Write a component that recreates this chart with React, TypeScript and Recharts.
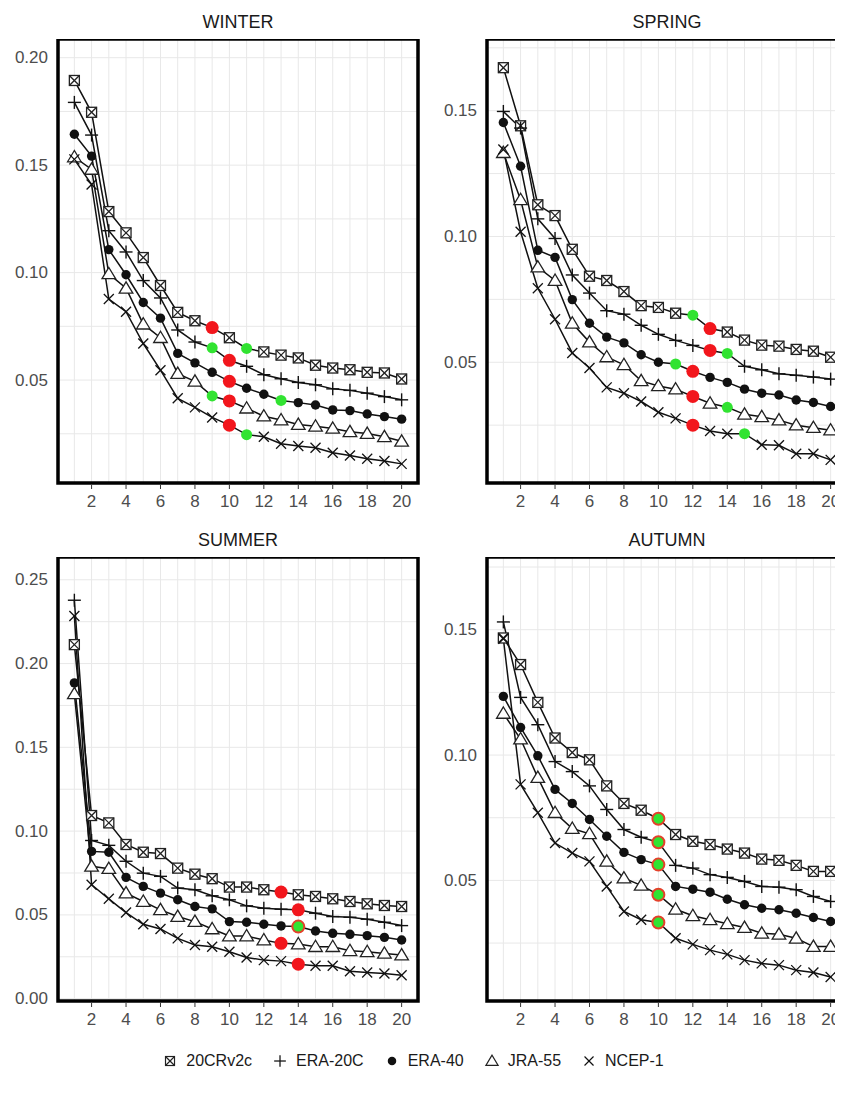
import React from "react";
import { LineChart, Line, XAxis, YAxis, CartesianGrid, ReferenceArea } from "recharts";

// lag steps on the x axis
const steps = [1, 2, 3, 4, 5, 6, 7, 8, 9, 10, 11, 12, 13, 14, 15, 16, 17, 18, 19, 20];
const seriesNames = ["20CRv2c", "ERA-20C", "ERA-40", "JRA-55", "NCEP-1"];

// WINTER
const winter20CR = [0.1894, 0.1746, 0.1284, 0.1185, 0.107, 0.094, 0.0815, 0.0776, 0.0744, 0.0697, 0.0647, 0.0631, 0.0616, 0.0603, 0.0569, 0.0556, 0.0548, 0.0536, 0.0533, 0.0505];
const winterERA20C = [0.1792, 0.164, 0.1195, 0.1096, 0.0963, 0.0882, 0.0733, 0.0677, 0.065, 0.0592, 0.0564, 0.0525, 0.0506, 0.0489, 0.0478, 0.0459, 0.0452, 0.0439, 0.0423, 0.0408];
const winterERA40 = [0.1644, 0.1542, 0.1107, 0.099, 0.0861, 0.0788, 0.0624, 0.058, 0.0536, 0.0494, 0.0462, 0.0434, 0.0405, 0.0395, 0.0384, 0.0361, 0.0358, 0.0342, 0.033, 0.0318];
const winterJRA55 = [0.1538, 0.148, 0.0994, 0.0927, 0.076, 0.0697, 0.053, 0.0494, 0.0426, 0.0403, 0.0369, 0.0332, 0.0314, 0.0293, 0.0285, 0.0275, 0.0259, 0.0251, 0.0236, 0.0215];
const winterNCEP1 = [0.1527, 0.141, 0.0877, 0.0818, 0.067, 0.0546, 0.0415, 0.0373, 0.0326, 0.029, 0.0246, 0.0236, 0.0204, 0.0193, 0.0185, 0.0162, 0.0149, 0.0134, 0.0123, 0.011];
const winterRed = [9, 10, 10, 10, 10];
const winterGreen = [11, 9, 13, 9, 11];

// SPRING
const spring20CR = [0.1671, 0.144, 0.1126, 0.1083, 0.0949, 0.0842, 0.0825, 0.0781, 0.0725, 0.0718, 0.0695, 0.0687, 0.0634, 0.062, 0.0588, 0.0568, 0.0564, 0.0551, 0.0544, 0.052];
const springERA20C = [0.1497, 0.1431, 0.107, 0.0992, 0.0847, 0.0775, 0.0705, 0.0691, 0.0647, 0.0611, 0.0587, 0.0567, 0.0547, 0.0535, 0.0484, 0.047, 0.0454, 0.0448, 0.0441, 0.0433];
const springERA40 = [0.1453, 0.1279, 0.0945, 0.0917, 0.0749, 0.0655, 0.06, 0.0577, 0.053, 0.05, 0.0493, 0.0464, 0.044, 0.042, 0.0393, 0.0377, 0.037, 0.035, 0.034, 0.0324];
const springJRA55 = [0.1333, 0.1146, 0.0878, 0.0825, 0.0655, 0.058, 0.0521, 0.049, 0.0426, 0.0406, 0.0393, 0.0364, 0.0337, 0.0321, 0.0293, 0.0283, 0.027, 0.025, 0.024, 0.023];
const springNCEP1 = [0.1346, 0.1019, 0.0794, 0.0671, 0.0537, 0.0477, 0.04, 0.0377, 0.0344, 0.0301, 0.0277, 0.025, 0.0227, 0.0216, 0.0216, 0.0172, 0.017, 0.0136, 0.0136, 0.0112];
const springRed = [13, 13, 12, 12, 12];
const springGreen = [12, 14, 11, 14, 15];

// SUMMER
const summer20CR = [0.2113, 0.1093, 0.1049, 0.092, 0.0874, 0.0866, 0.0779, 0.0743, 0.0716, 0.0666, 0.0666, 0.065, 0.0636, 0.062, 0.061, 0.0596, 0.058, 0.0566, 0.0556, 0.055];
const summerERA20C = [0.2378, 0.0944, 0.0915, 0.082, 0.0749, 0.073, 0.066, 0.065, 0.0614, 0.059, 0.0554, 0.054, 0.0534, 0.053, 0.051, 0.049, 0.0486, 0.0474, 0.0456, 0.0436];
const summerERA40 = [0.1885, 0.0879, 0.0874, 0.0724, 0.067, 0.063, 0.059, 0.055, 0.0536, 0.046, 0.0456, 0.0444, 0.0434, 0.043, 0.0404, 0.039, 0.0384, 0.0376, 0.0366, 0.035];
const summerJRA55 = [0.1819, 0.079, 0.0776, 0.063, 0.058, 0.053, 0.049, 0.046, 0.0416, 0.0374, 0.0374, 0.035, 0.033, 0.0326, 0.031, 0.031, 0.0286, 0.028, 0.027, 0.026];
const summerNCEP1 = [0.2284, 0.068, 0.0596, 0.0514, 0.0444, 0.0416, 0.036, 0.032, 0.031, 0.028, 0.0246, 0.023, 0.0224, 0.0206, 0.0196, 0.0196, 0.0164, 0.0156, 0.015, 0.014];
const summerRed = [13, 14, null, 13, 14];
const summerBoth = [null, null, 14, null, null];

// AUTUMN
const autumn20CR = [0.1467, 0.1361, 0.121, 0.1068, 0.101, 0.0981, 0.0877, 0.0807, 0.078, 0.0746, 0.0683, 0.0656, 0.0643, 0.0625, 0.0609, 0.0585, 0.058, 0.056, 0.0536, 0.0536];
const autumnERA20C = [0.1531, 0.123, 0.1121, 0.0974, 0.0934, 0.0877, 0.0783, 0.0703, 0.0672, 0.0652, 0.056, 0.0549, 0.0523, 0.0512, 0.0496, 0.0476, 0.0473, 0.0463, 0.0436, 0.0416];
const autumnERA40 = [0.1234, 0.111, 0.0997, 0.0863, 0.0807, 0.0743, 0.0676, 0.0612, 0.0583, 0.0563, 0.0476, 0.0465, 0.0453, 0.0425, 0.0403, 0.0389, 0.0383, 0.0369, 0.0352, 0.0336];
const autumnJRA55 = [0.1166, 0.1064, 0.091, 0.077, 0.0707, 0.0686, 0.0576, 0.0509, 0.048, 0.0443, 0.0385, 0.0359, 0.0343, 0.0327, 0.0312, 0.0289, 0.0285, 0.0269, 0.0236, 0.0236];
const autumnNCEP1 = [0.1464, 0.0883, 0.077, 0.0649, 0.0609, 0.0576, 0.0476, 0.0376, 0.0343, 0.0332, 0.0269, 0.0245, 0.0222, 0.0205, 0.0182, 0.0169, 0.0162, 0.0142, 0.0133, 0.0115];
const autumnBoth = [10, 10, 10, 10, 10];

const FONT = "'Liberation Sans', Arial, Helvetica, sans-serif";
const INK = "#111";
const RED = "#f2161c";
const GREEN = "#31e331";

type Marks = (number | null)[];

function Marker({ shape, cx, cy }: { shape: number; cx: number; cy: number }) {
  if (shape === 0) {
    return (
      <g stroke="#222" strokeWidth={1.3}>
        <rect x={cx - 5} y={cy - 5} width={10} height={10} fill="#fff" />
        <line x1={cx - 5} y1={cy - 5} x2={cx + 5} y2={cy + 5} />
        <line x1={cx + 5} y1={cy - 5} x2={cx - 5} y2={cy + 5} />
      </g>
    );
  }
  if (shape === 1) {
    return (
      <g stroke={INK} strokeWidth={1.4}>
        <line x1={cx - 6.5} y1={cy} x2={cx + 6.5} y2={cy} />
        <line x1={cx} y1={cy - 6.5} x2={cx} y2={cy + 6.5} />
      </g>
    );
  }
  if (shape === 2) return <circle cx={cx} cy={cy} r={4.7} fill={INK} />;
  if (shape === 3) {
    return (
      <polygon
        points={`${cx},${cy - 6.5} ${cx - 6.8},${cy + 4.8} ${cx + 6.8},${cy + 4.8}`}
        fill="#fff"
        stroke="#222"
        strokeWidth={1.3}
      />
    );
  }
  return (
    <g stroke={INK} strokeWidth={1.3}>
      <line x1={cx - 5} y1={cy - 5} x2={cx + 5} y2={cy + 5} />
      <line x1={cx + 5} y1={cy - 5} x2={cx - 5} y2={cy + 5} />
    </g>
  );
}

const makeDot = (shape: number, red: number | null, green: number | null, both: number | null) =>
  (props: any) => {
    const { cx, cy, payload, index } = props;
    const k = `d-${shape}-${index}`;
    if (cx == null || cy == null) return <g key={k} />;
    if (payload.x === both)
      return <circle key={k} cx={cx} cy={cy} r={6} fill={GREEN} stroke="#e4402a" strokeWidth={2} />;
    if (payload.x === red) return <circle key={k} cx={cx} cy={cy} r={6.5} fill={RED} />;
    if (payload.x === green) return <circle key={k} cx={cx} cy={cy} r={5.5} fill={GREEN} />;
    return (
      <g key={k}>
        <Marker shape={shape} cx={cx} cy={cy} />
      </g>
    );
  };

const XTick = (props: any) => {
  const { x, y, payload } = props;
  if (payload.value % 2 !== 0) return <g />;
  return (
    <g>
      <line x1={x} x2={x} y1={y + 2} y2={y + 6} stroke="#333" strokeWidth={1} />
      <text x={x} y={y + 18} textAnchor="middle" dominantBaseline="central" fontSize={17} fill="#4d4d4d" fontFamily={FONT}>
        {payload.value}
      </text>
    </g>
  );
};

const YTick = (props: any) => {
  const { x, y, payload } = props;
  const v = payload.value;
  if (Math.abs(Math.round(v * 20) - v * 20) > 1e-6) return <g />;
  return (
    <text x={x - 10} y={y} textAnchor="end" dominantBaseline="central" fontSize={17} fill="#4d4d4d" fontFamily={FONT}>
      {v.toFixed(2)}
    </text>
  );
};

type PanelProps = {
  title: string;
  values: number[][];
  domain: [number, number];
  yTicks: number[];
  left: number;
  top: number;
  red?: Marks;
  green?: Marks;
  both?: Marks;
};

function Panel({ title, values, domain, yTicks, left, top, red, green, both }: PanelProps) {
  const data = steps.map((x, i) => {
    const row: Record<string, number> = { x };
    seriesNames.forEach((n, s) => (row[n] = values[s][i]));
    return row;
  });
  return (
    <div style={{ position: "absolute", left, top }}>
      <div
        style={{
          position: "absolute",
          left: 50,
          top: -26,
          width: 360,
          textAlign: "center",
          fontSize: 18,
          lineHeight: "18px",
          color: "#1a1a1a",
          fontFamily: FONT,
        }}
      >
        {title}
      </div>
      <LineChart width={416} height={480} data={data} margin={{ top: 0, right: 6, left: 0, bottom: 0 }} style={{ overflow: "visible" }}>
        <CartesianGrid stroke="#e8e8e8" strokeWidth={1} />
        <XAxis
          dataKey="x"
          type="number"
          domain={[0.05, 20.95]}
          ticks={steps}
          interval={0}
          allowDataOverflow
          axisLine={false}
          tickLine={false}
          tickSize={0}
          tickMargin={0}
          height={36}
          tick={<XTick />}
        />
        <YAxis
          type="number"
          domain={domain}
          ticks={yTicks}
          interval={0}
          allowDataOverflow
          axisLine={false}
          tickLine={false}
          tickSize={0}
          tickMargin={0}
          width={50}
          tick={<YTick />}
        />
        {seriesNames.map((n, s) => (
          <Line
            key={n}
            dataKey={n}
            type="linear"
            stroke={INK}
            strokeWidth={1.5}
            isAnimationActive={false}
            dot={makeDot(s, red ? red[s] : null, green ? green[s] : null, both ? both[s] : null)}
            activeDot={false}
          />
        ))}
        <ReferenceArea
          x1={0.05}
          x2={20.95}
          y1={domain[0]}
          y2={domain[1]}
          fill="none"
          fillOpacity={0}
          stroke="#000"
          strokeWidth={3.5}
          ifOverflow="visible"
        />
      </LineChart>
    </div>
  );
}

function LegendIcon({ shape }: { shape: number }) {
  return (
    <svg width={16} height={16} style={{ overflow: "visible" }}>
      <g transform="scale(0.9) translate(0.9,0.9)">
        <Marker shape={shape} cx={8} cy={8} />
      </g>
    </svg>
  );
}

export default function App() {
  return (
    <div style={{ position: "relative", width: 835, height: 1080, overflow: "hidden", background: "#fff" }}>
      <Panel
        title="WINTER"
        values={[winter20CR, winterERA20C, winterERA40, winterJRA55, winterNCEP1]}
        domain={[0.0021, 0.2087]}
        yTicks={[0.025, 0.05, 0.075, 0.1, 0.125, 0.15, 0.175, 0.2]}
        left={0}
        top={31}
        red={winterRed}
        green={winterGreen}
      />
      <Panel
        title="SPRING"
        values={[spring20CR, springERA20C, springERA40, springJRA55, springNCEP1]}
        domain={[0.002, 0.1785]}
        yTicks={[0.025, 0.05, 0.075, 0.1, 0.125, 0.15, 0.175]}
        left={429}
        top={31}
        red={springRed}
        green={springGreen}
      />
      <Panel
        title="SUMMER"
        values={[summer20CR, summerERA20C, summerERA40, summerJRA55, summerNCEP1]}
        domain={[-0.0014, 0.2636]}
        yTicks={[0, 0.025, 0.05, 0.075, 0.1, 0.125, 0.15, 0.175, 0.2, 0.225, 0.25]}
        left={0}
        top={549}
        red={summerRed}
        both={summerBoth}
      />
      <Panel
        title="AUTUMN"
        values={[autumn20CR, autumnERA20C, autumnERA40, autumnJRA55, autumnNCEP1]}
        domain={[0.0019, 0.179]}
        yTicks={[0.025, 0.05, 0.075, 0.1, 0.125, 0.15, 0.175]}
        left={429}
        top={549}
        both={autumnBoth}
      />
      <div
        style={{
          position: "absolute",
          left: 0,
          top: 1043,
          width: 830,
          display: "flex",
          justifyContent: "center",
          alignItems: "center",
          fontFamily: FONT,
          fontSize: 16,
          lineHeight: "20px",
          color: "#1a1a1a",
        }}
      >
        {seriesNames.map((n, s) => (
          <span key={n} style={{ display: "inline-flex", alignItems: "center", marginRight: 20 }}>
            <LegendIcon shape={s} />
            <span style={{ marginLeft: 8 }}>{n}</span>
          </span>
        ))}
      </div>
    </div>
  );
}
